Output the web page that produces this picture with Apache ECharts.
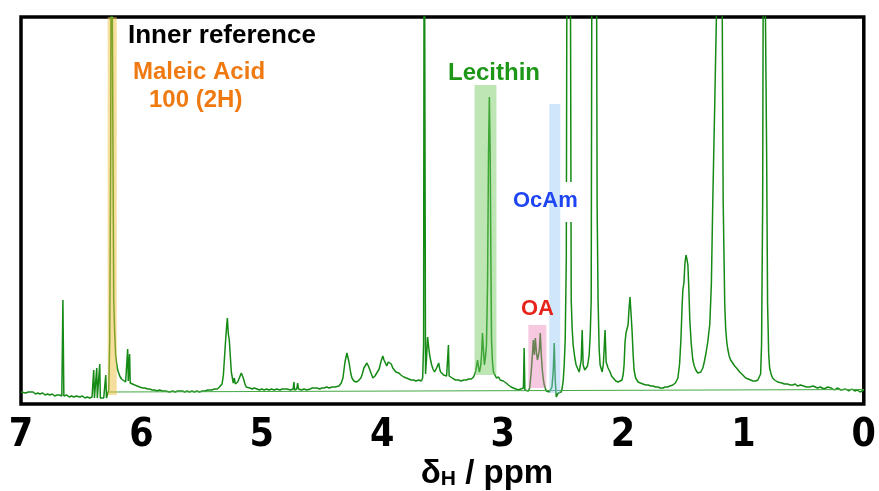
<!DOCTYPE html>
<html>
<head>
<meta charset="utf-8">
<script src="https://cdn.jsdelivr.net/npm/echarts@6/dist/echarts.min.js"></script>
<style>
html, body { margin: 0; padding: 0; background: #fff; }
#main { width: 879px; height: 491px; }
</style>
</head>
<body>
<div id="main"></div>
<script>
// chemical shift (ppm) / intensity pairs
var spectrumPoints = [
[7.000,12],[6.985,13],[6.960,11],[6.940,12],[6.925,11],[6.900,12],[6.880,10],[6.860,11],[6.843,10],[6.820,11],
[6.800,9],[6.780,10],[6.760,9],[6.740,10],[6.720,8],[6.700,9],[6.680,9],[6.661,8],[6.652,104],[6.644,8],
[6.620,9],[6.600,7],[6.580,8],[6.560,7],[6.540,8],[6.512,7],[6.490,8],[6.470,6],[6.450,7],[6.429,6],
[6.410,7],[6.400,6],[6.396,34],[6.390,6],[6.379,6],[6.371,36],[6.366,6],[6.354,6],[6.346,40],[6.341,6],
[6.325,5],[6.313,6],[6.303,7],[6.296,29],[6.290,6],[6.278,8],[6.271,14],[6.263,64],[6.255,250],[6.250,600],
[6.238,600],[6.230,104],[6.222,71],[6.214,49],[6.205,40],[6.197,34],[6.180,28],[6.165,25],[6.150,23],[6.131,22],
[6.120,24],[6.114,55],[6.109,23],[6.103,24],[6.098,50],[6.093,21],[6.080,21],[6.056,19],[6.035,18],[6.015,17],
[5.990,16],[5.970,16],[5.950,15],[5.932,15],[5.910,14],[5.890,14],[5.870,13],[5.849,14],[5.825,13],[5.800,13],
[5.766,12],[5.740,13],[5.720,12],[5.700,13],[5.684,12],[5.660,13],[5.640,12],[5.620,13],[5.601,12],[5.580,13],
[5.560,12],[5.540,13],[5.518,12],[5.495,13],[5.470,13],[5.450,14],[5.435,13],[5.415,14],[5.394,15],[5.370,15],
[5.352,17],[5.330,20],[5.319,29],[5.303,59],[5.294,75],[5.286,86],[5.278,70],[5.270,64],[5.260,45],[5.253,32],
[5.237,21],[5.228,26],[5.220,20],[5.212,19],[5.200,22],[5.187,26],[5.170,31],[5.154,26],[5.140,20],[5.129,17],
[5.100,16],[5.080,15],[5.063,16],[5.040,15],[5.020,14],[5.000,15],[4.980,14],[4.960,15],[4.940,14],[4.920,15],
[4.897,14],[4.875,15],[4.850,14],[4.830,15],[4.814,14],[4.790,15],[4.760,14],[4.740,15],[4.733,22],[4.728,14],
[4.710,15],[4.702,21],[4.695,15],[4.670,14],[4.649,15],[4.625,14],[4.600,15],[4.580,16],[4.566,15],[4.540,16],
[4.520,15],[4.500,16],[4.483,16],[4.460,17],[4.440,16],[4.417,17],[4.390,17],[4.359,18],[4.340,21],[4.326,26],
[4.309,42],[4.293,51],[4.276,42],[4.260,30],[4.251,26],[4.235,23],[4.218,22],[4.200,23],[4.177,26],[4.165,30],
[4.152,36],[4.127,41],[4.115,38],[4.102,34],[4.090,30],[4.077,26],[4.060,28],[4.044,29],[4.025,35],[4.011,42],
[3.995,48],[3.985,44],[3.978,42],[3.962,38],[3.950,42],[3.937,44],[3.925,40],[3.912,36],[3.900,35],[3.887,32],
[3.875,33],[3.862,31],[3.845,29],[3.821,27],[3.800,26],[3.779,25],[3.760,24],[3.738,24],[3.720,23],[3.697,24],
[3.675,23],[3.664,26],[3.656,60],[3.651,600],[3.645,600],[3.640,30],[3.632,45],[3.623,67],[3.615,58],[3.606,49],
[3.598,44],[3.589,39],[3.578,35],[3.565,32],[3.555,34],[3.548,36],[3.531,41],[3.522,35],[3.515,32],[3.500,30],
[3.490,29],[3.475,28],[3.465,28],[3.457,30],[3.450,59],[3.444,28],[3.430,26],[3.407,25],[3.390,24],[3.366,24],
[3.345,23],[3.324,24],[3.300,24],[3.283,25],[3.260,25],[3.241,27],[3.225,32],[3.208,44],[3.198,35],[3.192,32],
[3.180,40],[3.175,49],[3.167,71],[3.159,54],[3.151,39],[3.142,47],[3.134,59],[3.125,120],[3.117,250],[3.110,307],
[3.103,250],[3.097,140],[3.092,64],[3.084,42],[3.076,32],[3.065,30],[3.051,26],[3.042,28],[3.034,27],[3.020,24],
[3.010,22],[2.995,23],[2.985,24],[2.970,21],[2.952,19],[2.930,17],[2.910,16],[2.890,15],[2.869,14],[2.850,15],
[2.827,16],[2.821,56],[2.815,14],[2.800,13],[2.786,13],[2.775,16],[2.761,34],[2.752,50],[2.745,64],[2.736,49],
[2.728,66],[2.719,52],[2.711,44],[2.703,48],[2.695,54],[2.687,71],[2.679,50],[2.670,34],[2.662,25],[2.654,19],
[2.637,13],[2.625,12],[2.612,12],[2.600,13],[2.590,17],[2.579,34],[2.571,61],[2.563,24],[2.554,7],[2.545,9],
[2.538,11],[2.525,10],[2.513,12],[2.505,16],[2.496,24],[2.488,40],[2.480,64],[2.471,144],[2.463,600],[2.452,500],
[2.440,600],[2.430,104],[2.422,75],[2.414,59],[2.400,46],[2.389,39],[2.375,35],[2.364,32],[2.355,38],[2.347,44],
[2.339,74],[2.331,39],[2.318,34],[2.306,32],[2.295,38],[2.281,49],[2.272,70],[2.264,104],[2.256,600],[2.240,500],
[2.223,600],[2.215,200],[2.207,104],[2.198,55],[2.190,39],[2.173,32],[2.163,40],[2.157,54],[2.149,74],[2.140,42],
[2.132,40],[2.124,36],[2.107,32],[2.095,28],[2.082,26],[2.060,23],[2.041,22],[2.025,23],[2.008,24],[1.998,30],
[1.991,39],[1.983,62],[1.975,71],[1.967,75],[1.958,79],[1.950,95],[1.942,107],[1.933,90],[1.925,74],[1.916,50],
[1.908,34],[1.895,26],[1.875,22],[1.855,21],[1.834,20],[1.810,19],[1.790,19],[1.770,18],[1.751,18],[1.730,17],
[1.710,17],[1.690,16],[1.668,16],[1.650,17],[1.630,17],[1.610,18],[1.586,19],[1.565,21],[1.544,26],[1.530,40],
[1.519,64],[1.510,95],[1.503,114],[1.494,121],[1.486,140],[1.477,149],[1.469,145],[1.461,139],[1.453,115],[1.445,84],
[1.433,60],[1.420,44],[1.408,38],[1.395,34],[1.379,31],[1.366,31],[1.354,32],[1.337,36],[1.325,42],[1.312,50],
[1.296,62],[1.279,80],[1.266,120],[1.254,204],[1.238,300],[1.222,400],[1.197,900],[1.176,400],[1.168,204],[1.155,100],
[1.147,75],[1.138,62],[1.130,55],[1.118,48],[1.106,44],[1.090,42],[1.072,38],[1.050,35],[1.031,32],[1.005,29],
[0.981,26],[0.960,25],[0.940,24],[0.920,23],[0.898,23],[0.880,24],[0.865,26],[0.857,30],[0.849,60],[0.840,200],
[0.832,600],[0.816,600],[0.807,250],[0.799,100],[0.790,50],[0.782,36],[0.770,30],[0.758,26],[0.740,24],[0.716,22],
[0.700,21],[0.680,21],[0.660,20],[0.634,20],[0.610,19],[0.590,19],[0.570,20],[0.551,18],[0.525,19],[0.500,18],
[0.475,17],[0.450,17],[0.420,18],[0.385,16],[0.360,17],[0.330,15],[0.300,17],[0.270,16],[0.245,14],[0.220,16],
[0.190,14],[0.150,15],[0.125,13],[0.100,15],[0.075,13],[0.054,14],[0.030,12],[0.000,14]
];

// straight reference baseline under the spectrum
var baselinePpm = [6.28, 0.0];
var baselineInt = [12, 14.5];

// highlighted integration regions: maleic acid, lecithin, OA, OcAm
var bandFrom   = [6.280, 3.233, 2.786, 2.612];
var bandTo     = [6.205, 3.051, 2.637, 2.521];
var bandTop    = [387, 319, 79, 300];
var bandBottom = [9, 29, 16, 11];
var bandColors = ['rgba(238,190,60,0.5)', 'rgba(110,200,90,0.45)', 'rgba(232,120,180,0.4)', 'rgba(140,195,245,0.42)'];

var tickLabels = ['0', '1', '2', '3', '4', '5', '6', '7'];

var chart = echarts.init(document.getElementById('main'));

var bandData = bandFrom.map(function (f, i) {
  return [f, bandTo[i], bandTop[i], bandBottom[i]];
});

var option = {
  animation: false,
  backgroundColor: '#fff',
  grid: {
    left: 21, right: 13, top: 17, bottom: 87,
    show: true, borderColor: '#000', borderWidth: 3.5, backgroundColor: 'transparent'
  },
  xAxis: {
    type: 'value', min: 0, max: 7, interval: 1, inverse: true,
    axisLine: { show: false }, axisTick: { show: false }, splitLine: { show: false },
    axisLabel: {
      margin: 12,
      color: '#000',
      fontFamily: '"DejaVu Sans Condensed", "Liberation Sans", sans-serif',
      fontWeight: 'bold',
      fontSize: 39,
      formatter: function (v) { return tickLabels[Math.round(v)]; }
    }
  },
  yAxis: {
    type: 'value', min: 0, max: 387, show: false, splitLine: { show: false }
  },
  series: [
    {
      type: 'line',
      z: 2,
      data: spectrumPoints,
      showSymbol: false,
      symbol: 'none',
      clip: true,
      lineStyle: { color: '#158a15', width: 1.5 }
    },
    {
      type: 'line',
      z: 2,
      data: baselinePpm.map(function (p, i) { return [p, baselineInt[i]]; }),
      symbol: 'none',
      lineStyle: { color: '#45a845', width: 1.2 }
    },
    {
      type: 'custom',
      z: 4,
      data: bandData,
      renderItem: function (params, api) {
        var a = api.coord([api.value(0), api.value(2)]);
        var b = api.coord([api.value(1), api.value(3)]);
        return {
          type: 'rect',
          shape: { x: Math.min(a[0], b[0]), y: a[1], width: Math.abs(b[0] - a[0]), height: b[1] - a[1] },
          style: { fill: bandColors[params.dataIndex] }
        };
      }
    }
  ],
  graphic: [
    { type: 'rect', z: 3, shape: { x: 508, y: 182, width: 75, height: 40 }, style: { fill: '#fff' } },
    { type: 'text', z: 10, x: 128, y: 36, style: { text: 'Inner reference', fill: '#000', font: 'bold 26px "Liberation Sans"', verticalAlign: 'middle' } },
    { type: 'text', z: 10, x: 133, y: 72, style: { text: 'Maleic Acid', fill: '#f07a12', font: 'bold 24px "Liberation Sans"', verticalAlign: 'middle' } },
    { type: 'text', z: 10, x: 149, y: 100, style: { text: '100 (2H)', fill: '#f07a12', font: 'bold 24px "Liberation Sans"', verticalAlign: 'middle' } },
    { type: 'text', z: 10, x: 448, y: 73, style: { text: 'Lecithin', fill: '#1e9618', font: 'bold 24px "Liberation Sans"', verticalAlign: 'middle' } },
    { type: 'text', z: 10, x: 513, y: 201, style: { text: 'OcAm', fill: '#1f45f2', font: 'bold 22px "Liberation Sans"', verticalAlign: 'middle' } },
    { type: 'text', z: 10, x: 521, y: 309, style: { text: 'OA', fill: '#e8231c', font: 'bold 22px "Liberation Sans"', verticalAlign: 'middle' } },
    {
      type: 'text', z: 10, x: 487, y: 472,
      style: {
        text: '{a|δ}{b|H}{a| / ppm}',
        align: 'center', verticalAlign: 'middle',
        rich: {
          a: { fontFamily: 'Liberation Sans', fontWeight: 'bold', fontSize: 33, fill: '#000', lineHeight: 36, verticalAlign: 'bottom' },
          b: { fontFamily: 'Liberation Sans', fontWeight: 'bold', fontSize: 21, fill: '#000', lineHeight: 36, verticalAlign: 'bottom', padding: [10, 0, 0, 0] }
        }
      }
    }
  ]
};

if (option && typeof option === 'object') {
  chart.setOption(option);
}
</script>
</body>
</html>
